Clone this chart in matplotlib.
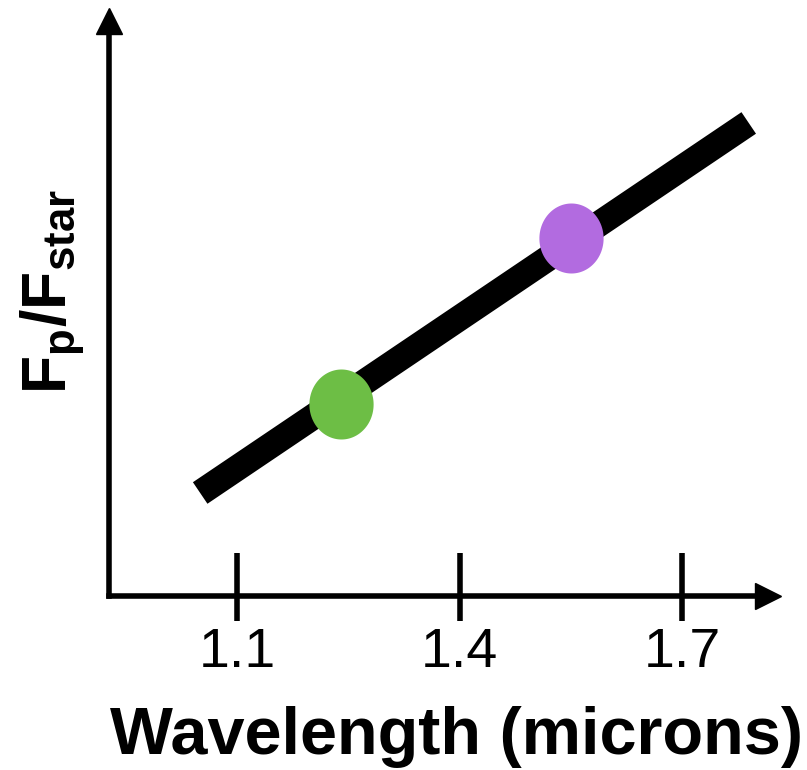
import numpy as np
import matplotlib
matplotlib.use("Agg")
import matplotlib.pyplot as plt
from matplotlib.path import Path
from matplotlib.ticker import FixedLocator

plt.rcParams['font.family'] = ['Liberation Sans', 'DejaVu Sans']
plt.rcParams['mathtext.fontset'] = 'custom'
plt.rcParams['mathtext.rm'] = 'Liberation Sans:bold'
plt.rcParams['mathtext.bf'] = 'Liberation Sans:bold'
plt.rcParams['mathtext.it'] = 'Liberation Sans:bold'

# Linear model of the planet-to-star flux ratio versus wavelength
model_wavelength = [1.05, 1.79]
model_flux_ratio = [0.179, 0.822]

# Two photometric measurements
point_wavelength = [1.24, 1.55]
point_flux_ratio = [0.334, 0.622]
point_colors = ['#6dbe45', '#b26be0']

tick_values = [1.1, 1.4, 1.7]
tick_labels = ['1.1', '1.4', '1.7']

x_range = (0.927, 1.816)
y_range = (0.0, 1.0)

fig = plt.figure(figsize=(8.07, 7.7), dpi=100)
W, H = 807, 770
left_px, right_px, bottom_px, top_px = 109, 768, 596, 20.5
ax = fig.add_axes([left_px / W, (H - bottom_px) / H,
                   (right_px - left_px) / W, (bottom_px - top_px) / H])

ax.set_xlim(*x_range)
ax.set_ylim(*y_range)

ax.plot(model_wavelength, model_flux_ratio, color='black', lw=18.7,
        solid_capstyle='butt', zorder=2)

# slightly tall elliptical marker
t = np.linspace(0, 2 * np.pi, 100)
ellipse = Path(np.column_stack([np.cos(t), 1.09 * np.sin(t)]), closed=True)
for xv, yv, c in zip(point_wavelength, point_flux_ratio, point_colors):
    ax.plot([xv], [yv], marker=ellipse, markersize=50.4, color=c,
            markeredgewidth=0, linestyle='none', zorder=3)

for side in ('top', 'right'):
    ax.spines[side].set_visible(False)
for side in ('left', 'bottom'):
    ax.spines[side].set_linewidth(4)
    ax.spines[side].set_capstyle('projecting')

# arrow heads at the axis ends
ax.plot(1, 0, marker='>', markersize=18.5, color='black',
        transform=ax.transAxes, clip_on=False)
ax.plot(0, 1, marker='^', markersize=18.5, color='black',
        transform=ax.transAxes, clip_on=False)

ax.set_yticks([])
ax.set_xticks(tick_values)
ax.set_xticklabels(tick_labels)
ax.xaxis.set_minor_locator(FixedLocator(tick_values))
ax.xaxis.remove_overlapping_locs = False
ax.tick_params(axis='x', which='major', direction='in', length=31, width=4,
               pad=22, labelsize=40, colors='black')
ax.tick_params(axis='x', which='minor', direction='out', length=18, width=4)

ax.set_xlabel('Wavelength (microns)', fontsize=48, fontweight='bold', labelpad=20)
ax.xaxis.label.set_x(0.527)
ax.set_ylabel(r'$\mathbf{F_p/F_{star}}$', fontsize=45, va='center')
ax.yaxis.set_label_coords(-0.085, 0.529)

fig.savefig('out.png', dpi=100)
